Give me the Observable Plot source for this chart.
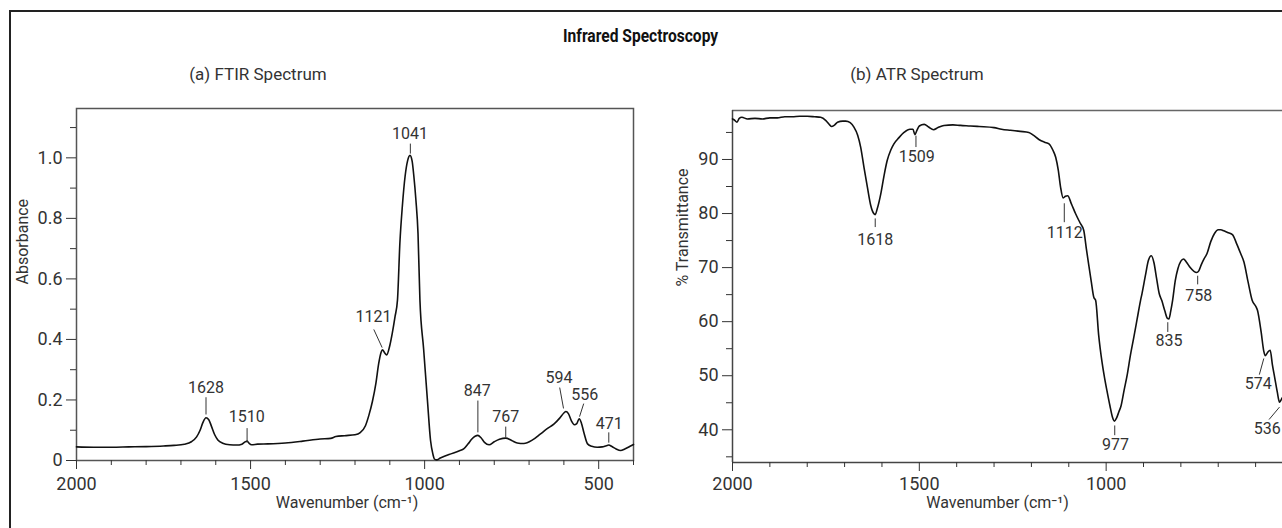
<!DOCTYPE html>
<html><head><meta charset="utf-8">
<script src="https://cdn.jsdelivr.net/npm/d3@7"></script>
<script src="https://cdn.jsdelivr.net/npm/@observablehq/plot@0.6"></script>
<style>
html,body{margin:0;padding:0;background:#fff;}
#fig{position:relative;width:1282px;height:528px;overflow:hidden;font-family:Roboto,"Liberation Sans",sans-serif;color:#333;background:#fff;}
#border{position:absolute;left:9px;top:10px;width:1400px;height:600px;border-left:2px solid #222;border-top:2px solid #222;}
#title{position:absolute;left:0;width:1282px;top:25px;text-align:center;line-height:22px;}
#title span{display:inline-block;font-weight:bold;font-size:19px;font-family:Roboto,"Liberation Sans",sans-serif;color:#111;transform:scaleX(0.82);transform-origin:center;}
.sub{position:absolute;top:64px;font-size:17px;line-height:20px;transform:translateX(-50%);white-space:nowrap;color:#333;}
#left{position:absolute;left:0;top:90px;}
#right{position:absolute;left:640px;top:90px;}
svg{overflow:visible;}
</style>
</head><body>
<div id="fig">
  <div id="border"></div>
  <div id="title"><span>Infrared Spectroscopy</span></div>
  <div class="sub" style="left:258px">(a) FTIR Spectrum</div>
  <div class="sub" style="left:917px">(b) ATR Spectrum</div>
  <div id="left"></div>
  <div id="right"></div>
</div>
<script>
// ---------- (a) FTIR spectrum ----------
const ftirWavenumber = [2000,1950,1900,1850,1800,1750,1720,1690,1670,1655,1645,1637,1628,1620,1612,1603,1594,1580,1560,1540,1525,1515,1510,1505,1497,1480,1450,1400,1350,1300,1270,1255,1230,1200,1185,1170,1160,1150,1140,1132,1125,1121,1115,1109,1100,1093,1085,1078,1071,1064,1056,1049,1042,1036,1031,1025,1019,1013.5,1003,992,983,976,972,966,955,930,900,887,875,865,855,847,838,828,815,800,785,767,750,734,715,690,667,648,628,612,600,594,587,578,570,563,556,550,542,532,520,504,490,478,471,462,450,437,425,410,400];
const ftirAbsorbance = [0.045,0.044,0.044,0.045,0.046,0.048,0.050,0.054,0.062,0.078,0.100,0.125,0.141,0.135,0.112,0.085,0.068,0.057,0.052,0.051,0.054,0.062,0.064,0.058,0.052,0.054,0.055,0.058,0.064,0.071,0.073,0.079,0.082,0.085,0.092,0.115,0.150,0.195,0.255,0.320,0.358,0.366,0.356,0.349,0.380,0.420,0.475,0.530,0.720,0.840,0.940,0.990,1.008,0.990,0.940,0.860,0.750,0.530,0.370,0.200,0.066,0.020,0.005,0.002,0.008,0.020,0.032,0.039,0.055,0.070,0.080,0.083,0.075,0.060,0.052,0.062,0.070,0.074,0.066,0.058,0.056,0.068,0.088,0.105,0.121,0.140,0.157,0.162,0.155,0.130,0.118,0.122,0.138,0.125,0.090,0.055,0.047,0.044,0.045,0.049,0.051,0.046,0.038,0.033,0.038,0.047,0.053];
const ftirMajorX = [2000,1500,1000,500];
const ftirMinorX = [1900,1800,1700,1600,1400,1300,1200,1100,900,800,700,600,400];
const ftirMajorY = [0,0.2,0.4,0.6,0.8,1.0];
const ftirMinorY = [0.1,0.3,0.5,0.7,0.9,1.1];
const ftirPeakLabels = ["1628","1510","1121","1041","847","767","594","556","471"];
const ftirLabelWn  = [1628,1511,1147,1042,849,767,614,540,470];
const ftirLabelAbs = [0.241,0.143,0.473,1.079,0.229,0.143,0.273,0.217,0.121];
const ftirLeadWn1  = [1628,1510,1146,1041,847,767,612,543,471];
const ftirLeadAbs1 = [0.209,0.107,0.433,1.047,0.198,0.112,0.241,0.188,0.093];
const ftirLeadWn2  = [1628,1510,1122,1041,847,767,601,555,471];
const ftirLeadAbs2 = [0.152,0.060,0.373,1.014,0.093,0.076,0.172,0.145,0.059];

// ---------- (b) ATR spectrum ----------
const atrWavenumber = [2000,1995,1988,1982,1975,1960,1940,1920,1900,1880,1860,1840,1820,1800,1780,1764,1750,1740,1735,1728,1719,1705,1697,1685,1675,1665,1657,1648,1639,1630,1622,1618,1613,1603,1595,1586,1576,1568,1555,1541,1525,1517,1512,1507,1500,1487,1475,1462,1450,1434,1410,1390,1363,1340,1300,1280,1256,1230,1207,1195,1180,1165,1153,1143,1135,1128,1122,1115,1109,1103,1093,1082,1070,1060,1053,1047,1040,1033,1028,1020,1011,1004,998,990,983,978,972,965,961,952,943,935,926,917,908,904,895,887,879,872,865,858,851,843,836,832,827,822,815,808,800,793,785,775,765,758,752,745,738,730,720,710,700,693,685,675,662,650,640,631,620,609,600,595,585,578,574,567,561,555,549,542,536,532,528];
const atrTransmittance = [97.5,97.3,96.9,97.6,97.8,97.5,97.6,97.5,97.7,97.7,97.9,97.9,98.0,98.0,97.9,97.8,97.2,96.4,96.1,96.3,96.9,97.1,97.1,96.8,96.0,94.5,92.3,88.5,84.9,81.5,80.0,79.8,80.8,83.7,86.8,89.8,91.8,92.9,94.0,95.0,95.6,95.6,94.6,95.3,96.2,96.5,96.0,95.5,95.9,96.3,96.4,96.3,96.2,96.1,95.9,95.6,95.4,95.2,95.0,94.5,93.7,93.2,92.9,91.8,90.4,88.0,84.9,82.9,83.2,83.3,81.8,80.0,78.3,76.9,73.5,70.7,67.5,64.5,63.9,57.5,52.5,49.5,47.3,44.5,42.3,41.6,42.2,43.5,44.2,47.3,50.4,53.8,57.1,60.5,63.9,65.2,68.5,71.3,72.2,70.9,68.0,65.2,63.9,62.0,60.6,60.5,62.0,64.0,67.6,69.8,71.2,71.6,71.0,70.0,69.3,69.1,69.4,70.6,71.6,72.6,74.8,76.3,77.0,77.0,76.8,76.5,76.1,74.3,72.6,71.0,67.3,63.9,62.9,62.1,58.0,54.5,53.7,54.4,54.7,52.0,49.7,47.0,45.1,45.5,46.0];
const atrMajorX = [2000,1500,1000];
const atrMinorX = [1900,1800,1700,1600,1400,1300,1200,1100,900,800,700,600];
const atrMajorY = [40,50,60,70,80,90];
const atrMinorY = [35,45,55,65,75,85,95];
const atrPeakLabels = ["1618","1509","1112","977","835","758","574","536"];
const atrLabelWn = [1618,1507,1111,975,832,752,593,569];
const atrLabelT  = [75.1,90.4,76.4,37.3,56.4,64.8,48.5,40.2];
const atrLeadWn1 = [1618,1509,1112,977,835,755,578,536];
const atrLeadT1  = [79.1,94.4,81.9,40.8,59.9,68.5,53.2,44.2];
const atrLeadWn2 = [1618,1509,1112,977,835,755,590,564];
const atrLeadT2  = [77.5,92.3,78.4,39.0,58.1,66.9,50.2,41.9];

const ftir = ftirWavenumber.map((w,i)=>({w, v: ftirAbsorbance[i]}));
const atr = atrWavenumber.map((w,i)=>({w, v: atrTransmittance[i]}));
const ftirAnn = ftirPeakLabels.map((t,i)=>({t, lx: ftirLabelWn[i], ly: ftirLabelAbs[i], x1: ftirLeadWn1[i], y1: ftirLeadAbs1[i], x2: ftirLeadWn2[i], y2: ftirLeadAbs2[i]}));
const atrAnn = atrPeakLabels.map((t,i)=>({t, lx: atrLabelWn[i], ly: atrLabelT[i], x1: atrLeadWn1[i], y1: atrLeadT1[i], x2: atrLeadWn2[i], y2: atrLeadT2[i]}));

const baseStyle = {fontFamily: "Roboto, 'Liberation Sans', sans-serif", fontSize: "18px", color: "#333", background: "transparent", overflow: "visible"};
const blank = () => "";

const leftPlot = Plot.plot({
  width: 640, height: 438,
  marginLeft: 76, marginRight: 7, marginTop: 18, marginBottom: 68,
  x: {domain: [2000, 400], label: null},
  y: {domain: [0, 1.163], label: null},
  style: baseStyle,
  marks: [
    Plot.frame({stroke: "#555", strokeWidth: 1.5}),
    Plot.axisX(ftirMajorX, {tickSize: 9, tickPadding: 8, label: null, tickFormat: d => String(d), stroke: "#333"}),
    Plot.axisX(ftirMinorX, {tickSize: 5, label: null, tickFormat: blank, stroke: "#333"}),
    Plot.axisY(ftirMajorY, {tickSize: 10, tickPadding: 4, label: null, tickFormat: d => d === 0 ? "0" : d.toFixed(1), stroke: "#333"}),
    Plot.axisY(ftirMinorY, {tickSize: 6, label: null, tickFormat: blank, stroke: "#333"}),
    Plot.line(ftir, {x: "w", y: "v", stroke: "#111", strokeWidth: 1.6, curve: "monotone-x"}),
    Plot.link(ftirAnn, {x1: "x1", y1: "y1", x2: "x2", y2: "y2", stroke: "#333", strokeWidth: 1}),
    Plot.text(ftirAnn, {x: "lx", y: "ly", text: "t", fontSize: 16, fill: "#333"}),
    Plot.text(["Wavenumber (cm⁻¹)"], {text: d => d, frameAnchor: "bottom", dy: 47, dx: -8, fontSize: 16, fill: "#333"}),
    Plot.text(["Absorbance"], {text: d => d, frameAnchor: "left", dx: -54, rotate: -90, fontSize: 16, fill: "#333"})
  ]
});
document.getElementById("left").appendChild(leftPlot);

const rightPlot = Plot.plot({
  width: 642, height: 438,
  marginLeft: 92, marginRight: 0, marginTop: 20, marginBottom: 66,
  x: {domain: [2000, 528], label: null},
  y: {domain: [33.95, 99.06], label: null},
  style: baseStyle,
  marks: [
    Plot.ruleY([99.06], {stroke: "#666", strokeWidth: 1.5}),
    Plot.ruleX([2000], {stroke: "#444", strokeWidth: 1.5}),
    Plot.ruleY([33.95], {stroke: "#444", strokeWidth: 1.5}),
    Plot.axisX(atrMajorX, {tickSize: 9, tickPadding: 6, label: null, tickFormat: d => String(d), stroke: "#333"}),
    Plot.axisX(atrMinorX, {tickSize: 5, label: null, tickFormat: blank, stroke: "#333"}),
    Plot.axisY(atrMajorY, {tickSize: 10, tickPadding: 4, label: null, tickFormat: d => String(d), stroke: "#333"}),
    Plot.axisY(atrMinorY, {tickSize: 6, label: null, tickFormat: blank, stroke: "#333"}),
    Plot.line(atr, {x: "w", y: "v", stroke: "#111", strokeWidth: 1.6, curve: "monotone-x"}),
    Plot.link(atrAnn, {x1: "x1", y1: "y1", x2: "x2", y2: "y2", stroke: "#333", strokeWidth: 1}),
    Plot.text(atrAnn, {x: "lx", y: "ly", text: "t", fontSize: 16, fill: "#333"}),
    Plot.text(["Wavenumber (cm⁻¹)"], {text: d => d, frameAnchor: "bottom", dy: 45, dx: -10, fontSize: 16, fill: "#333"}),
    Plot.text(["% Transmittance"], {text: d => d, frameAnchor: "left", dx: -50, rotate: -90, fontSize: 16, fill: "#333"})
  ]
});
document.getElementById("right").appendChild(rightPlot);
</script>
</body></html>
